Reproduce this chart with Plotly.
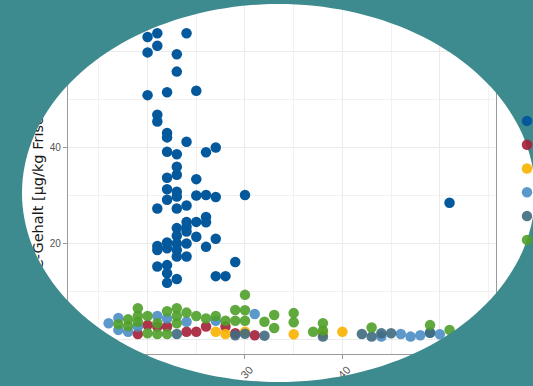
import numpy as np
import plotly.graph_objects as go

# ---- data -------------------------------------------------------------
Y_TITLE = "PFC-Gehalt [µg/kg Frischgewicht]"
GROUPS = ["Gruppe 1", "Gruppe 2", "Gruppe 3", "Gruppe 4", "Gruppe 5", "Gruppe 6"]

g1_x = [20, 20, 20,
        21, 21, 21, 21, 21, 21, 21, 21,
        22, 22, 22, 22, 22, 22, 22, 22, 22, 22, 22, 22,
        23, 23, 23, 23, 23, 23, 23, 23, 23, 23, 23, 23, 23, 23,
        24, 24, 24, 24, 24, 24, 24, 24,
        25, 25, 25, 25, 25,
        26, 26, 26, 26, 26,
        27, 27, 27, 27,
        28, 29, 30, 51]
g1_y = [63.1, 59.9, 51.0,
        63.9, 61.3, 46.9, 45.5, 27.4, 19.6, 18.75, 15.3,
        51.6, 43.1, 42.2, 39.2, 33.8, 31.4, 29.2, 20.3, 19.1, 15.6, 13.9, 11.9,
        59.5, 55.9, 38.7, 36.1, 34.4, 30.9, 29.9, 27.4, 23.3, 21.7, 20.1, 18.75, 17.4, 12.7,
        63.9, 41.3, 28.0, 24.6, 23.6, 22.6, 20.1, 17.4,
        51.9, 33.5, 30.1, 24.6, 21.5,
        39.1, 30.2, 25.6, 24.5, 19.4,
        40.1, 29.8, 21.1, 13.3,
        13.3, 16.25, 30.2, 28.6]

g2_x = [19, 20, 21, 22, 24, 25, 26, 28, 29, 31]
g2_y = [1.25, 3.1, 2.8, 2.8, 1.7, 1.7, 2.8, 2.8, 1.4, 1.0]

g3_x = [27, 28, 30, 35, 38, 40]
g3_y = [1.7, 1.25, 1.7, 1.2, 1.4, 1.7]

g4_x = [16, 17, 17, 18, 19, 21, 22, 24, 27, 31, 44, 46, 47, 48, 49, 50]
g4_y = [3.5, 4.6, 2.1, 1.7, 2.8, 5.0, 4.5, 3.8, 4.0, 5.4, 0.7, 1.25, 0.7, 1.0, 1.5, 1.2]

g5_x = [23, 29, 30, 32, 38, 42, 43, 44, 45, 49]
g5_y = [1.25, 1.0, 1.3, 0.9, 0.7, 1.25, 0.7, 1.4, 1.4, 1.5]

g6_x = [17, 18, 18, 19, 19, 19, 20, 20, 21, 21, 22, 22, 23, 23, 23, 24, 25, 26, 27, 28,
        29, 29, 30, 30, 30, 32, 33, 33, 35, 35, 37, 38, 38, 43, 49, 51]
g6_y = [3.3, 4.3, 2.9, 6.6, 5.0, 3.8, 5.0, 1.4, 1.25, 3.5, 6.0, 1.25, 6.6, 5.0, 3.5, 5.7, 5.0, 4.5, 5.0, 4.0,
        6.25, 4.0, 9.4, 6.2, 4.0, 3.8, 5.2, 2.5, 5.6, 3.7, 1.7, 3.5, 2.0, 2.6, 3.1, 2.1]

COLORS = ["#04589C", "#A51E37", "#F8B100", "#4A8DC4", "#3F6A7E", "#4FA02A"]
OPACITY = [1.0, 0.9, 0.9, 0.9, 0.9, 0.9]
TEAL = "#3E8B8F"

X_RANGE = [11.83, 55.77]
Y_RANGE = [-2.92, 70.4]

# ---- figure -----------------------------------------------------------
W, H = 533, 386
ML, MR, MT, MB = 68, 37, 2, 32
PW, PH = W - ML - MR, H - MT - MB

fig = go.Figure()
series = [(g1_x, g1_y), (g2_x, g2_y), (g3_x, g3_y), (g4_x, g4_y), (g5_x, g5_y), (g6_x, g6_y)]
for i in range(6):
    xs, ys = series[i]
    fig.add_trace(go.Scatter(
        x=xs, y=ys, mode="markers", name=GROUPS[i],
        # the first group sits on the twin y axis (same range) that carries the title
        yaxis="y2" if i == 0 else "y",
        marker=dict(size=10.5, color=COLORS[i], opacity=OPACITY[i], line=dict(width=0)),
    ))

# elliptical vignette: teal everywhere except inside the ellipse
def to_paper(px, py):
    return (px - ML) / PW, (H - MB - py) / PH

cx, cy, ra, rb = 278.5, 193.0, 256.5, 189.0
t = np.linspace(0, 2 * np.pi, 181)[:-1]
ex = cx + ra * np.cos(t)
ey = cy + rb * np.sin(t)
outer = [(-10, -10), (W + 10, -10), (W + 10, H + 10), (-10, H + 10)]
path = "M " + " L ".join("%.5f,%.5f" % to_paper(a, b) for a, b in outer) + " Z "
path += "M " + " L ".join("%.5f,%.5f" % to_paper(a, b) for a, b in zip(ex, ey)) + " Z"

fig.add_shape(type="path", path=path, xref="paper", yref="paper",
              fillcolor=TEAL, line=dict(width=0), fillrule="evenodd", layer="above")

grid = "#EBEBEB"
fig.update_layout(
    width=W, height=H, margin=dict(l=ML, r=MR, t=MT, b=MB, pad=0, autoexpand=False),
    paper_bgcolor="white", plot_bgcolor="white",
    font=dict(family="Liberation Sans, Arial, sans-serif"),
    showlegend=True,
    legend=dict(x=(507 - ML) / PW, y=(H - MB - 104) / PH, xanchor="left", yanchor="top",
                font=dict(size=16, color="#222"), bgcolor="rgba(0,0,0,0)", tracegroupgap=0),
    xaxis=dict(range=X_RANGE, dtick=10, tick0=0, showgrid=True, gridcolor=grid, gridwidth=1.2,
               minor=dict(dtick=5, showgrid=True, gridcolor="#F1F1F1", gridwidth=1),
               zeroline=False, showline=True, linecolor="#9A9A9A", linewidth=1.3,
               ticks="outside", ticklen=4, tickcolor="#9A9A9A", tickangle=-45,
               ticklabelshift=5,
               tickfont=dict(size=11, color="#555")),
    yaxis=dict(range=Y_RANGE, dtick=20, tick0=0, showgrid=True, gridcolor=grid, gridwidth=1.2,
               minor=dict(dtick=10, showgrid=True, gridcolor="#F1F1F1", gridwidth=1),
               zeroline=False, showline=True, mirror=True, linecolor="#9A9A9A", linewidth=1.3,
               ticks="outside", ticklen=4, tickcolor="#9A9A9A",
               tickfont=dict(size=10, color="#555")),
    # twin axis with the same range; its single label is the rotated y title
    yaxis2=dict(overlaying="y", anchor="x", side="left", range=Y_RANGE,
                tickmode="array", tickvals=[35.8], ticktext=[Y_TITLE], tickangle=-90,
                ticks="outside", ticklen=18, tickcolor="rgba(0,0,0,0)",
                showgrid=False, zeroline=False, showline=False,
                tickfont=dict(family="DejaVu Sans, sans-serif", size=14.5, color="#1a1a1a")),
)

fig.write_html("out.html")
